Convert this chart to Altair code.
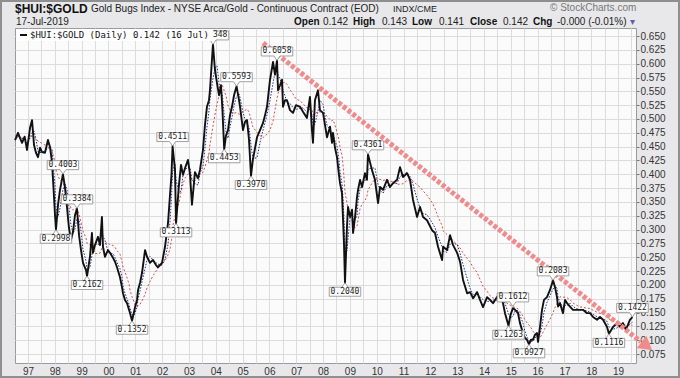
import altair as alt
import pandas as pd

# ---------------- data ----------------
dates = [
    "1996-07-08", "1996-08-17", "1996-09-15", "1996-10-11", "1996-11-15", "1996-12-18",
    "1997-01-28", "1997-02-24", "1997-03-23", "1997-04-19", "1997-05-16", "1997-06-13",
    "1997-07-10", "1997-08-19", "1997-09-29", "1997-10-27", "1997-11-23", "1997-12-07",
    "1998-01-03", "1998-01-16", "1998-02-13", "1998-03-12", "1998-04-21", "1998-05-18",
    "1998-06-15", "1998-07-12", "1998-08-08", "1998-09-05", "1998-10-02", "1998-10-29",
    "1998-11-26", "1998-12-23", "1999-01-19", "1999-03-01", "1999-03-15", "1999-04-24",
    "1999-05-21", "1999-06-04", "1999-07-01", "1999-08-11", "1999-09-07", "1999-10-04",
    "1999-10-18", "1999-11-14", "1999-12-25", "2000-01-21", "2000-03-03", "2000-03-30",
    "2000-04-26", "2000-06-06", "2000-07-03", "2000-07-17", "2000-08-13", "2000-09-10",
    "2000-10-07", "2000-10-21", "2000-11-17", "2000-12-14", "2000-12-28", "2001-01-24",
    "2001-02-07", "2001-03-06", "2001-04-02", "2001-05-13", "2001-06-09", "2001-07-19",
    "2001-08-29", "2001-10-09", "2001-11-05", "2001-12-30", "2002-02-09", "2002-03-22",
    "2002-04-18", "2002-05-08", "2002-05-23", "2002-06-25", "2002-07-09", "2002-08-18",
    "2002-09-15", "2002-10-12", "2002-11-08", "2002-12-19", "2003-01-15", "2003-02-11",
    "2003-03-24", "2003-05-04", "2003-05-31", "2003-07-11", "2003-08-07", "2003-09-03",
    "2003-10-01", "2003-10-14", "2003-11-24", "2003-12-21", "2004-01-18", "2004-02-14",
    "2004-02-28", "2004-03-12", "2004-04-01", "2004-04-25", "2004-05-19", "2004-06-16",
    "2004-07-13", "2004-08-09", "2004-09-06", "2004-10-10", "2004-11-13", "2004-11-27",
    "2005-01-06", "2005-02-03", "2005-03-02", "2005-03-29", "2005-04-25", "2005-05-20",
    "2005-07-16", "2005-08-26", "2005-10-06", "2005-11-02", "2005-11-29", "2006-01-09",
    "2006-02-19", "2006-03-18", "2006-04-14", "2006-04-28", "2006-05-25", "2006-06-21",
    "2006-07-05", "2006-08-01", "2006-08-28", "2006-10-08", "2006-11-18", "2006-12-29",
    "2007-02-22", "2007-04-03", "2007-05-27", "2007-07-07", "2007-08-03", "2007-08-17",
    "2007-09-13", "2007-10-24", "2007-11-20", "2008-01-01", "2008-01-28", "2008-02-24",
    "2008-04-05", "2008-05-02", "2008-05-16", "2008-06-12", "2008-07-09", "2008-08-05",
    "2008-08-19", "2008-09-15", "2008-09-28", "2008-10-12", "2008-10-26", "2008-11-22",
    "2008-12-06", "2009-01-03", "2009-01-30", "2009-02-13", "2009-03-12", "2009-04-08",
    "2009-04-22", "2009-05-19", "2009-06-15", "2009-07-25", "2009-08-21", "2009-09-04",
    "2009-10-28", "2009-12-08", "2010-01-19", "2010-02-15", "2010-03-28", "2010-05-21",
    "2010-07-01", "2010-08-11", "2010-10-05", "2010-11-14", "2010-12-25", "2011-02-18",
    "2011-03-31", "2011-05-10", "2011-07-04", "2011-08-14", "2011-09-24", "2011-11-17",
    "2012-01-24", "2012-03-05", "2012-04-15", "2012-06-09", "2012-06-23", "2012-08-16",
    "2012-09-26", "2012-11-06", "2012-12-31", "2013-02-09", "2013-03-22", "2013-05-16",
    "2013-06-26", "2013-08-06", "2013-09-29", "2013-11-08", "2013-12-19", "2014-02-12",
    "2014-03-24", "2014-05-04", "2014-06-27", "2014-08-07", "2014-09-17", "2014-10-14",
    "2014-12-01", "2014-12-28", "2015-01-30", "2015-03-01", "2015-04-09", "2015-05-06",
    "2015-06-16", "2015-07-13", "2015-08-09", "2015-09-06", "2015-10-03", "2015-10-30",
    "2015-11-27", "2015-12-24", "2016-01-07", "2016-02-03", "2016-03-01", "2016-03-28",
    "2016-05-08", "2016-06-18", "2016-07-29", "2016-08-25", "2016-09-21", "2016-10-05",
    "2016-11-01", "2016-12-12", "2017-01-09", "2017-02-05", "2017-03-17", "2017-04-27",
    "2017-06-21", "2017-07-31", "2017-09-10", "2017-11-04", "2017-12-15", "2018-01-25",
    "2018-03-20", "2018-04-30", "2018-06-10", "2018-08-04", "2018-08-29", "2018-10-24",
    "2018-12-17", "2019-01-27", "2019-03-08", "2019-04-18", "2019-06-11", "2019-07-16",
]
values = [
    0.462, 0.475, 0.465, 0.457, 0.468, 0.444,
    0.484, 0.498, 0.453, 0.439, 0.431, 0.448,
    0.440, 0.439, 0.462, 0.449, 0.422, 0.390,
    0.326, 0.2998, 0.345, 0.372, 0.4003, 0.377,
    0.341, 0.303, 0.281, 0.296, 0.326, 0.3384,
    0.290, 0.263, 0.240, 0.227, 0.2162, 0.251,
    0.294, 0.258, 0.272, 0.287, 0.272, 0.323,
    0.269, 0.251, 0.263, 0.258, 0.249, 0.242,
    0.232, 0.214, 0.196, 0.185, 0.173, 0.167,
    0.155, 0.149, 0.1352, 0.151, 0.160, 0.173,
    0.191, 0.204, 0.222, 0.263, 0.251, 0.240,
    0.245, 0.236, 0.232, 0.240, 0.269, 0.312,
    0.363, 0.399, 0.4511, 0.408, 0.3113, 0.381,
    0.417, 0.399, 0.411, 0.426, 0.400, 0.345,
    0.404, 0.393, 0.408, 0.444, 0.489, 0.522,
    0.534, 0.552, 0.6348, 0.589, 0.565, 0.543,
    0.552, 0.561, 0.516, 0.4453, 0.470, 0.480,
    0.507, 0.522, 0.543, 0.5593, 0.534, 0.522,
    0.480, 0.495, 0.498, 0.462, 0.3970, 0.426,
    0.467, 0.480, 0.493, 0.507, 0.522, 0.571,
    0.603, 0.580, 0.6058, 0.552, 0.561, 0.571,
    0.522, 0.534, 0.534, 0.516, 0.511, 0.525,
    0.522, 0.513, 0.502, 0.540, 0.480, 0.457,
    0.534, 0.552, 0.516, 0.511, 0.489, 0.467,
    0.486, 0.457, 0.475, 0.448, 0.431, 0.399,
    0.384, 0.366, 0.323, 0.276, 0.2040, 0.305,
    0.341, 0.323, 0.336, 0.294, 0.323, 0.359,
    0.372, 0.390, 0.377, 0.402, 0.390, 0.4361,
    0.408, 0.390, 0.348, 0.377, 0.372, 0.390,
    0.377, 0.384, 0.390, 0.413, 0.395, 0.402,
    0.390, 0.354, 0.323, 0.341, 0.323, 0.317,
    0.299, 0.294, 0.269, 0.245, 0.269, 0.263,
    0.290, 0.272, 0.258, 0.242, 0.209, 0.185,
    0.187, 0.176, 0.187, 0.173, 0.160, 0.178,
    0.173, 0.167, 0.178, 0.185, 0.167, 0.149,
    0.1263, 0.146, 0.158, 0.155, 0.149, 0.131,
    0.113, 0.104, 0.101, 0.0927, 0.101, 0.101,
    0.110, 0.113, 0.097, 0.124, 0.155, 0.173,
    0.178, 0.191, 0.2083, 0.196, 0.178, 0.161,
    0.167, 0.149, 0.173, 0.167, 0.161, 0.155,
    0.155, 0.155, 0.155, 0.149, 0.149, 0.142,
    0.137, 0.142, 0.137, 0.124, 0.1116, 0.124,
    0.131, 0.124, 0.131, 0.119, 0.137, 0.142,
]

ann_dates = [
    "1998-01-16", "1998-04-21", "1998-10-29", "1999-03-15", "2000-11-17",
    "2002-05-23", "2002-07-09", "2003-11-24", "2004-04-25", "2004-10-10",
    "2005-04-25", "2006-04-14", "2008-10-26", "2009-09-04", "2014-12-01",
    "2015-01-30", "2015-09-06", "2016-07-29", "2018-08-29", "2019-07-16",
]
ann_values = [
    0.2998, 0.4003, 0.3384, 0.2162, 0.1352,
    0.4511, 0.3113, 0.6348, 0.4453, 0.5593,
    0.3970, 0.6058, 0.2040, 0.4361, 0.1263,
    0.1612, 0.0927, 0.2083, 0.1116, 0.1422,
]
ann_kinds = [
    "lo", "hi", "hi", "lo", "lo",
    "hi", "lo", "hi", "lo", "hi",
    "lo", "hi", "lo", "hi", "lo",
    "hi", "lo", "hi", "lo", "hi",
]

trend_dates = ["2005-10-06", "2019-11-06"]
trend_values = [0.6373, 0.0976]
arrow_dates = ["2020-01-29"]
arrow_values = [0.0896]

y_ticks = [0.075, 0.100, 0.125, 0.150, 0.175, 0.200, 0.225, 0.250, 0.275, 0.300,
           0.325, 0.350, 0.375, 0.400, 0.425, 0.450, 0.475, 0.500, 0.525, 0.550,
           0.575, 0.600, 0.625, 0.650]
x_years = list(range(1997, 2020))

# ---------------- chart ----------------
price_df = pd.DataFrame({"date": dates, "value": values})
ann_df = pd.DataFrame({"date": ann_dates, "value": ann_values, "kind": ann_kinds})
trend_df = pd.DataFrame({"date": trend_dates, "value": trend_values})
arrow_df = pd.DataFrame({"date": arrow_dates, "value": arrow_values})

FONT = "Liberation Sans"
MONO = "DejaVu Sans Mono"

x_tick_values = []
for yr in x_years:
    x_tick_values.append(alt.DateTime(year=yr, month=1, date=1))
    x_tick_values.append(alt.DateTime(year=yr, month=7, date=1))

xscale = alt.Scale(domain=[alt.DateTime(year=1996, month=7, date=7),
                           alt.DateTime(year=2019, month=9, date=2)])
yscale = alt.Scale(domain=[0.0589, 0.6645], zero=False, nice=False)

xaxis = alt.Axis(values=x_tick_values, grid=True, gridColor="#dcdcdc", gridWidth=1,
                 ticks=False, domain=False, labelPadding=3,
                 labelExpr="month(datum.value) == 0 ? timeFormat(datum.value, '%y') : ''",
                 labelFont=FONT, labelFontSize=10, labelColor="#333",
                 labelFlush=False, labelOverlap=False)
yaxis = alt.Axis(orient="right", values=y_ticks, format=".3f", grid=True,
                 gridColor="#dcdcdc", gridWidth=1, domain=False,
                 tickSize=3, tickColor="#777", labelPadding=1,
                 labelFont=FONT, labelFontSize=10, labelColor="#333",
                 labelOverlap=False, labelFlush=False)

X = alt.X("date:T", scale=xscale, axis=xaxis, title=None)
Y = alt.Y("value:Q", scale=yscale, axis=yaxis, title=None)

base = alt.Chart(price_df)

ma_slow = base.transform_window(
    ma="mean(value)", frame=[-8, 0], sort=[alt.SortField("date")]
).transform_calculate(value="datum.ma").mark_line(
    color="#e04848", strokeWidth=1, strokeDash=[2, 2]
).encode(x=X, y=Y)

ma_fast = base.transform_window(
    ma="mean(value)", frame=[-2, 0], sort=[alt.SortField("date")]
).transform_calculate(value="datum.ma").mark_line(
    color="#23308a", strokeWidth=1, strokeDash=[1.5, 1.5]
).encode(x=X, y=Y)

price = base.mark_line(color="#111", strokeWidth=1.9, strokeJoin="round").encode(x=X, y=Y)

TREND_COLOR = "#f18a8a"
trend = alt.Chart(trend_df).mark_line(
    color=TREND_COLOR, strokeWidth=5, strokeDash=[4, 2], clip=False
).encode(x=X, y=Y)
arrow = alt.Chart(arrow_df).mark_point(
    shape="triangle-right", filled=True, size=240, angle=38,
    color=TREND_COLOR, opacity=1, clip=False
).encode(x=X, y=Y)

HI_PATH = "M-1.05,-0.9 L1.05,-0.9 L1.05,-0.3 L0.2,-0.3 L0,0 L-0.2,-0.3 L-1.05,-0.3 Z"
LO_PATH = "M-1.05,0.9 L1.05,0.9 L1.05,0.3 L0.2,0.3 L0,0 L-0.2,0.3 L-1.05,0.3 Z"

ann = alt.Chart(ann_df)
box_hi = ann.transform_filter("datum.kind == 'hi'").mark_point(
    shape=HI_PATH, size=900, filled=True, fill="white", stroke="#8a8a8a",
    strokeWidth=0.8, opacity=1, clip=False
).encode(x=X, y=Y)
box_lo = ann.transform_filter("datum.kind == 'lo'").mark_point(
    shape=LO_PATH, size=900, filled=True, fill="white", stroke="#8a8a8a",
    strokeWidth=0.8, opacity=1, clip=False
).encode(x=X, y=Y)
txt_hi = ann.transform_filter("datum.kind == 'hi'").mark_text(
    dy=-9, font=MONO, fontSize=8, color="#222", clip=False
).encode(x=X, y=Y, text=alt.Text("value:Q", format=".4f"))
txt_lo = ann.transform_filter("datum.kind == 'lo'").mark_text(
    dy=9, font=MONO, fontSize=8, color="#222", clip=False
).encode(x=X, y=Y, text=alt.Text("value:Q", format=".4f"))

ONE = alt.Data(values=[{}])


def label(txt, x, y, size=10, bold=False, color="#222", font=FONT):
    return alt.Chart(ONE).mark_text(
        text=txt, align="left", baseline="middle", font=font, fontSize=size,
        fontWeight="bold" if bold else "normal", color=color, clip=False
    ).encode(x=alt.value(x), y=alt.value(y))


legend_bg = alt.Chart(ONE).mark_rect(fill="white", clip=False).encode(
    x=alt.value(1), x2=alt.value(198), y=alt.value(1), y2=alt.value(13))
legend_dash = alt.Chart(ONE).mark_rule(color="#111", strokeWidth=2, clip=False).encode(
    x=alt.value(5), x2=alt.value(12), y=alt.value(7))
legend_txt = label("$HUI:$GOLD (Daily) 0.142 (16 Jul)", 15, 7, size=9, font=MONO, color="#111")

frame = alt.Chart(ONE).mark_rect(fillOpacity=0, stroke="#8f8f8f", strokeWidth=2, clip=False).encode(
    x=alt.value(-14), x2=alt.value(664), y=alt.value(-27), y2=alt.value(349))

header = [
    label("$HUI:$GOLD", 0, -19, size=12, bold=True, color="#111"),
    label("Gold Bugs Index - NYSE Arca/Gold - Continuous Contract (EOD)", 76, -19, size=10),
    label("INDX/CME", 378, -19, size=9),
    label("\u00a9 StockCharts.com", 535, -20, size=10, color="#777"),
    label("17-Jul-2019", 1, -6, size=10),
    label("Open", 279, -6, size=10, bold=True, color="#111"),
    label("0.142", 308, -6, size=10),
    label("High", 338, -6, size=10, bold=True, color="#111"),
    label("0.143", 367, -6, size=10),
    label("Low", 397, -6, size=10, bold=True, color="#111"),
    label("0.141", 424, -6, size=10),
    label("Close", 455, -6, size=10, bold=True, color="#111"),
    label("0.142", 488, -6, size=10),
    label("Chg", 518, -6, size=10, bold=True, color="#111"),
    label("-0.000 (-0.01%)", 542, -6, size=10),
    label("\u25be", 615, -6, size=10, color="#5566aa"),
]

chart = alt.layer(
    ma_slow, ma_fast, price, trend, arrow,
    box_hi, box_lo, txt_hi, txt_lo,
    legend_bg, legend_dash, legend_txt, frame, *header
).properties(
    width=621, height=335,
    padding={"left": 15, "top": 28, "right": 44, "bottom": 15},
    autosize=alt.AutoSizeParams(type="none"),
    background="#e8e8ea",
).configure_view(
    fill="#fbfbfc", stroke="#9a9a9a", strokeWidth=1
)

chart.save("out.html", embed_options={"renderer": "svg", "actions": False})
